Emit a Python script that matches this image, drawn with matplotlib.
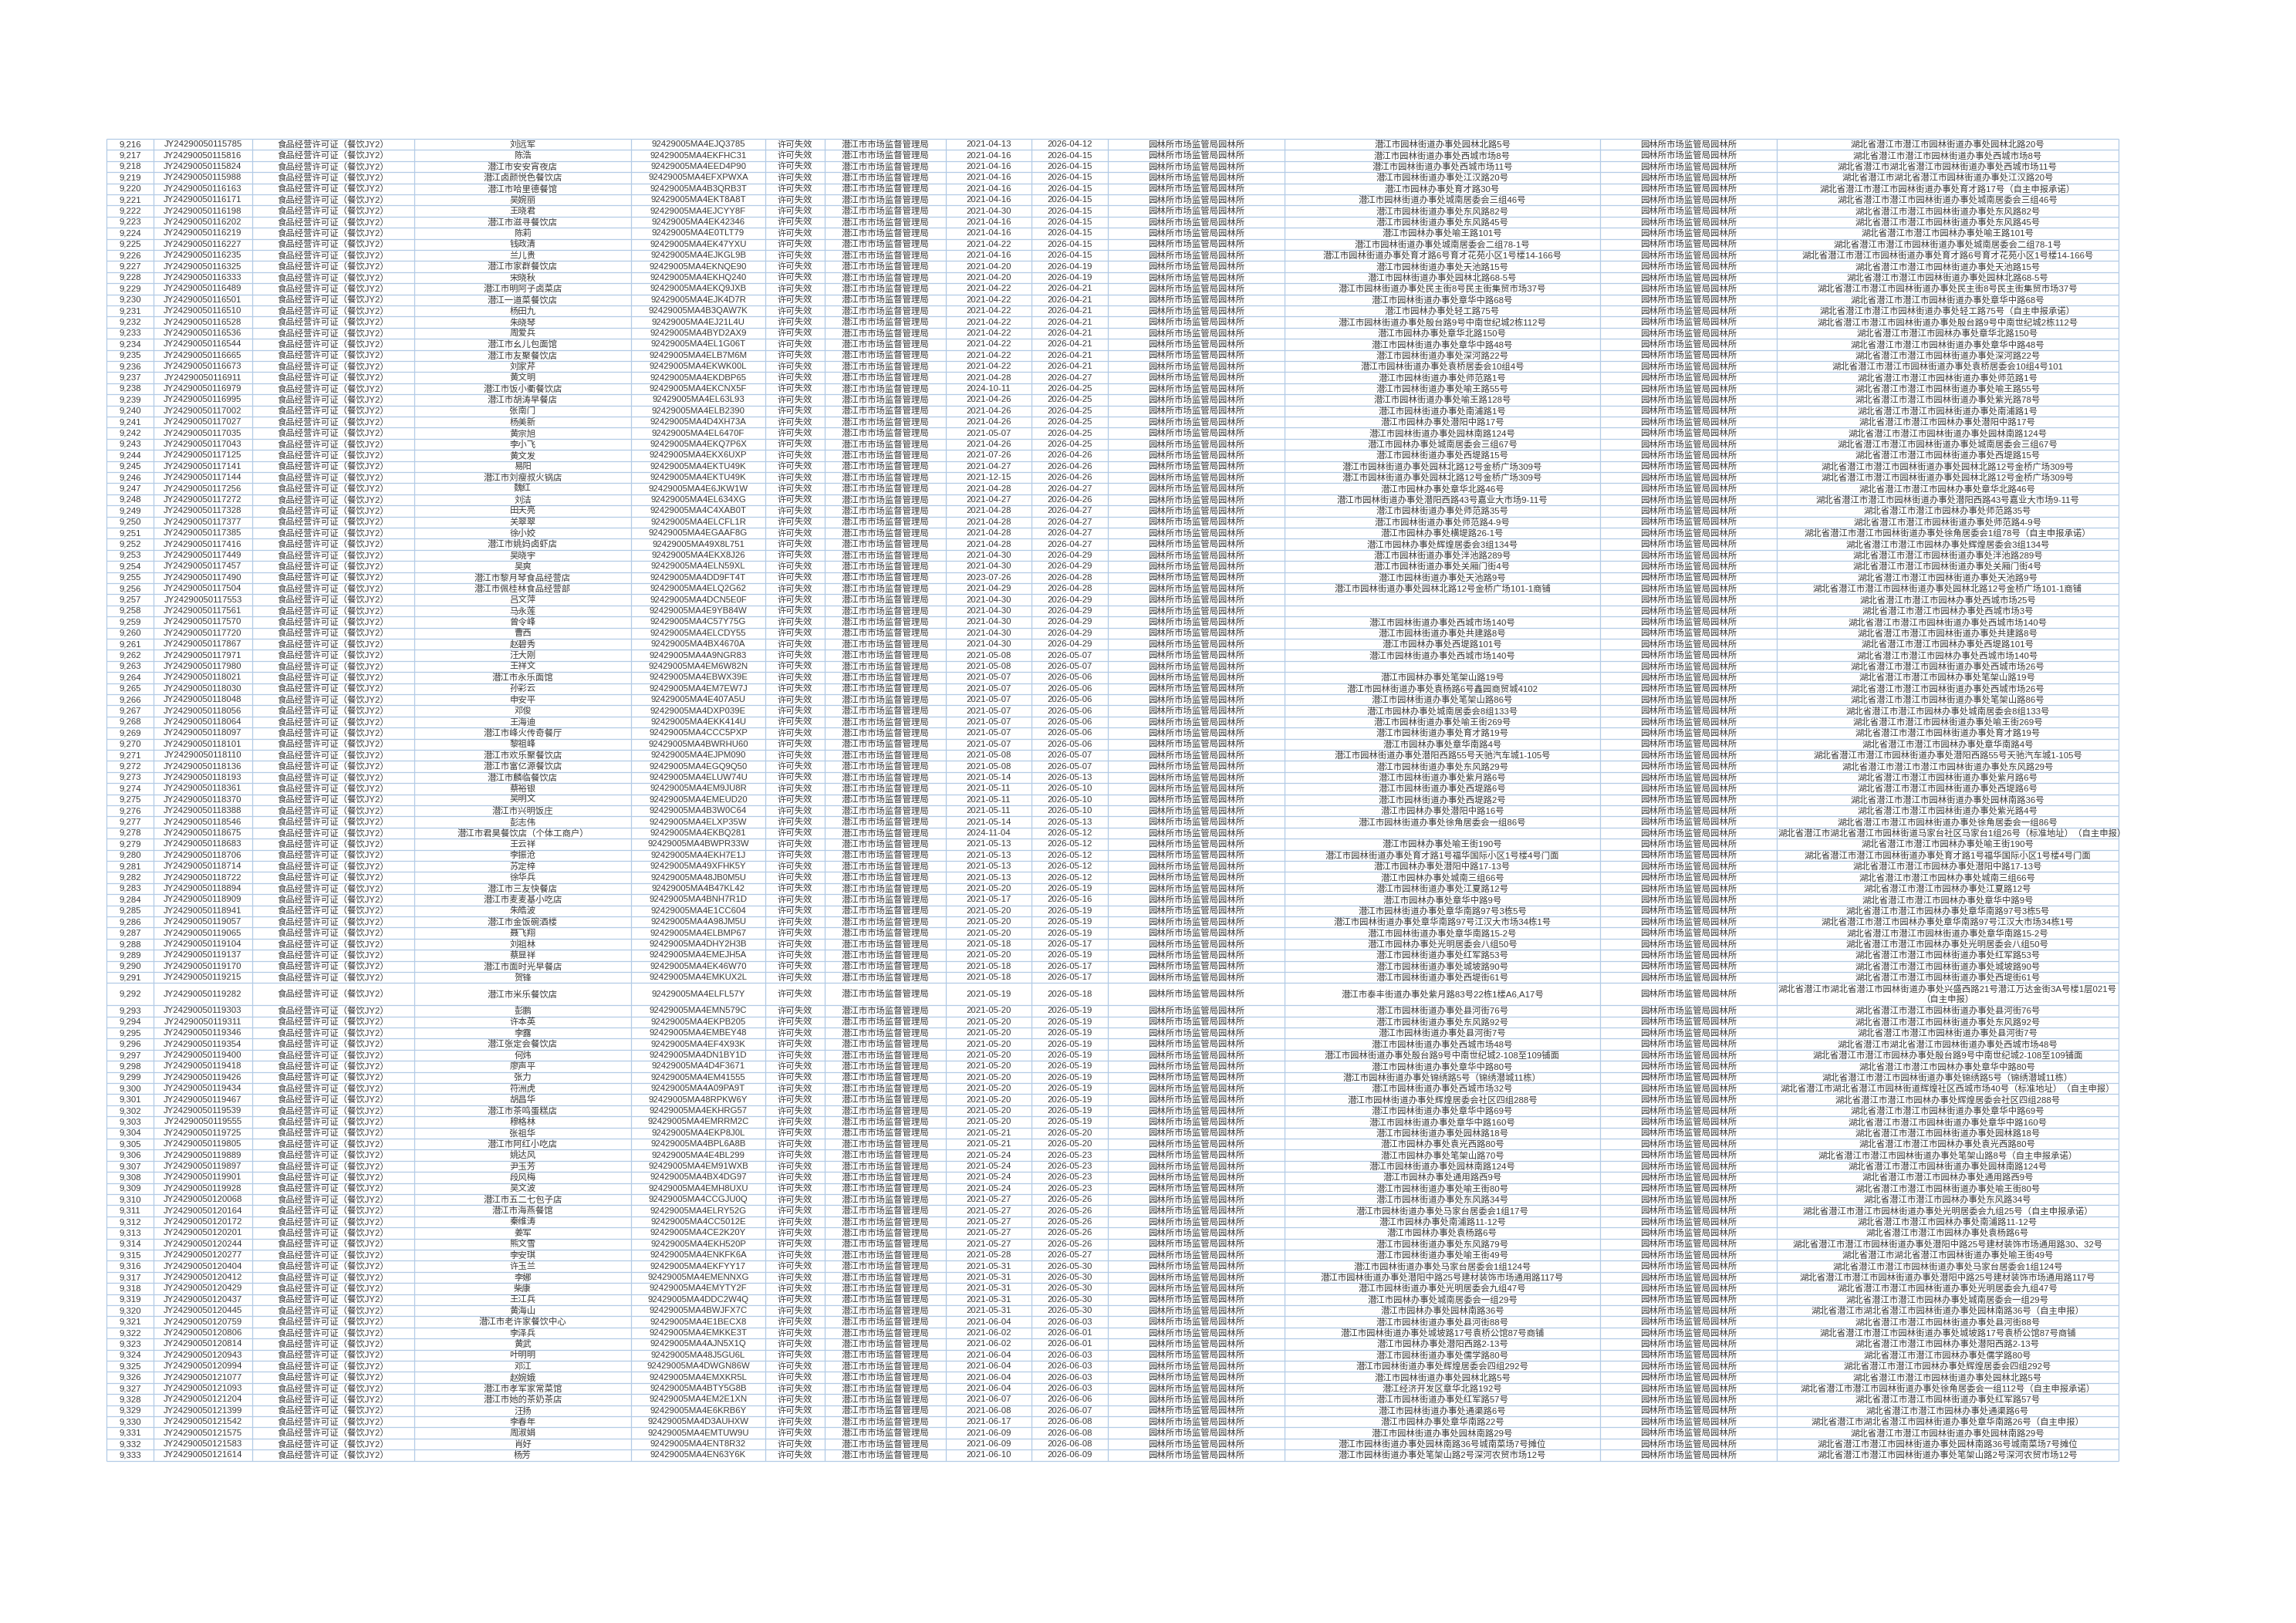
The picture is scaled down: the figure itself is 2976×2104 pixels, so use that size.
import matplotlib
matplotlib.use('Agg')
import matplotlib.pyplot as plt
from matplotlib.patches import Rectangle

plt.rcParams['font.family'] = ['Liberation Sans', 'Noto Sans CJK SC', 'DejaVu Sans']

# ---------------- data ----------------
row_no = [9216, 9217, 9218, 9219, 9220, 9221, 9222, 9223, 9224, 9225,
          9226, 9227, 9228, 9229, 9230, 9231, 9232, 9233, 9234, 9235,
          9236, 9237, 9238, 9239, 9240, 9241, 9242, 9243, 9244, 9245,
          9246, 9247, 9248, 9249, 9250, 9251, 9252, 9253, 9254, 9255,
          9256, 9257, 9258, 9259, 9260, 9261, 9262, 9263, 9264, 9265,
          9266, 9267, 9268, 9269, 9270, 9271, 9272, 9273, 9274, 9275,
          9276, 9277, 9278, 9279, 9280, 9281, 9282, 9283, 9284, 9285,
          9286, 9287, 9288, 9289, 9290, 9291, 9292, 9293, 9294, 9295,
          9296, 9297, 9298, 9299, 9300, 9301, 9302, 9303, 9304, 9305,
          9306, 9307, 9308, 9309, 9310, 9311, 9312, 9313, 9314, 9315,
          9316, 9317, 9318, 9319, 9320, 9321, 9322, 9323, 9324, 9325,
          9326, 9327, 9328, 9329, 9330, 9331, 9332, 9333]

permit_no = [
    'JY24290050115785', 'JY24290050115816', 'JY24290050115824', 'JY24290050115988', 'JY24290050116163',
    'JY24290050116171', 'JY24290050116198', 'JY24290050116202', 'JY24290050116219', 'JY24290050116227',
    'JY24290050116235', 'JY24290050116325', 'JY24290050116333', 'JY24290050116489', 'JY24290050116501',
    'JY24290050116510', 'JY24290050116528', 'JY24290050116536', 'JY24290050116544', 'JY24290050116665',
    'JY24290050116673', 'JY24290050116911', 'JY24290050116979', 'JY24290050116995', 'JY24290050117002',
    'JY24290050117027', 'JY24290050117035', 'JY24290050117043', 'JY24290050117125', 'JY24290050117141',
    'JY24290050117144', 'JY24290050117256', 'JY24290050117272', 'JY24290050117328', 'JY24290050117377',
    'JY24290050117385', 'JY24290050117416', 'JY24290050117449', 'JY24290050117457', 'JY24290050117490',
    'JY24290050117504', 'JY24290050117553', 'JY24290050117561', 'JY24290050117570', 'JY24290050117720',
    'JY24290050117867', 'JY24290050117971', 'JY24290050117980', 'JY24290050118021', 'JY24290050118030',
    'JY24290050118048', 'JY24290050118056', 'JY24290050118064', 'JY24290050118097', 'JY24290050118101',
    'JY24290050118110', 'JY24290050118136', 'JY24290050118193', 'JY24290050118361', 'JY24290050118370',
    'JY24290050118388', 'JY24290050118546', 'JY24290050118675', 'JY24290050118683', 'JY24290050118706',
    'JY24290050118714', 'JY24290050118722', 'JY24290050118894', 'JY24290050118909', 'JY24290050118941',
    'JY24290050119057', 'JY24290050119065', 'JY24290050119104', 'JY24290050119137', 'JY24290050119170',
    'JY24290050119215', 'JY24290050119282', 'JY24290050119303', 'JY24290050119311', 'JY24290050119346',
    'JY24290050119354', 'JY24290050119400', 'JY24290050119418', 'JY24290050119426', 'JY24290050119434',
    'JY24290050119467', 'JY24290050119539', 'JY24290050119555', 'JY24290050119725', 'JY24290050119805',
    'JY24290050119889', 'JY24290050119897', 'JY24290050119901', 'JY24290050119928', 'JY24290050120068',
    'JY24290050120164', 'JY24290050120172', 'JY24290050120201', 'JY24290050120244', 'JY24290050120277',
    'JY24290050120404', 'JY24290050120412', 'JY24290050120429', 'JY24290050120437', 'JY24290050120445',
    'JY24290050120759', 'JY24290050120806', 'JY24290050120814', 'JY24290050120943', 'JY24290050120994',
    'JY24290050121077', 'JY24290050121093', 'JY24290050121204', 'JY24290050121399', 'JY24290050121542',
    'JY24290050121575', 'JY24290050121583', 'JY24290050121614']

license_type = '食品经营许可证（餐饮JY2）'
status = '许可失效'
authority = '潜江市市场监督管理局'
office = '园林所市场监管局园林所'

names = [
    '刘远军', '陈浩', '潜江市安安宵夜店', '潜江卤颜悦色餐饮店', '潜江市哈里德餐馆',
    '吴婉丽', '王晓君', '潜江市滋寻餐饮店', '陈莉', '钱政清',
    '兰儿贵', '潜江市家群餐饮店', '宋晓秋', '潜江市明阿子卤菜店', '潜江一道菜餐饮店',
    '杨田九', '朱晓琴', '周爱兵', '潜江市幺儿包面馆', '潜江市友聚餐饮店',
    '刘家芹', '黄文明', '潜江市饭小衢餐饮店', '潜江市胡涛早餐店', '张南门',
    '杨美新', '黄宗旭', '李小飞', '黄文发', '易阳',
    '潜江市刘瘦叔火锅店', '魏红', '刘洁', '田天亮', '关翠翠',
    '徐小姣', '潜江市姚妈卤虾店', '吴晓宇', '吴爽', '潜江市黎月琴食品经营店',
    '潜江市佩桂林食品经营部', '吕文萍', '马永莲', '曾令峰', '曹西',
    '赵碧秀', '汪大刚', '王祥文', '潜江市永乐面馆', '孙彩云',
    '申安平', '邓俊', '王海迪', '潜江市峰火传奇餐厅', '黎祖峰',
    '潜江市欢乐聚餐饮店', '潜江市富亿源餐饮店', '潜江市麟临餐饮店', '蔡裕银', '吴明文',
    '潜江市兴明饭庄', '彭志伟', '潜江市君昊餐饮店（个体工商户）', '王云祥', '李振沧',
    '苏定梓', '徐华兵', '潜江市三友快餐店', '潜江市麦麦基小吃店', '朱皓波',
    '潜江市金饭碗酒楼', '聂飞翔', '刘祖林', '蔡显祥', '潜江市面时光早餐店',
    '贺锋', '潜江市米乐餐饮店', '彭鹏', '许本英', '李露',
    '潜江张定会餐饮店', '何炜', '廖声平', '张力', '符洲虎',
    '胡昌华', '潜江市茶鸣蛋糕店', '穆格林', '张祖华', '潜江市阿红小吃店',
    '姚达风', '尹玉芳', '段风梅', '吴文波', '潜江市五二七包子店',
    '潜江市海燕餐馆', '秦维涛', '姜军', '熊文雪', '李安琪',
    '许玉兰', '李娜', '柴康', '王江兵', '黄海山',
    '潜江市老许家餐饮中心', '李泽兵', '黄武', '叶明明', '邓江',
    '赵婉娥', '潜江市孝军家常菜馆', '潜江市她的茶奶茶店', '汪扬', '李春年',
    '周淑娟', '肖好', '杨芳']

credit_codes = [
    '92429005MA4EJQ3785', '92429005MA4EKFHC31', '92429005MA4EED4P90', '92429005MA4EFXPWXA', '92429005MA4B3QRB3T',
    '92429005MA4EKT8A8T', '92429005MA4EJCYY8F', '92429005MA4EK42346', '92429005MA4E0TLT79', '92429005MA4EK47YXU',
    '92429005MA4EJKGL9B', '92429005MA4EKNQE90', '92429005MA4EKHQ240', '92429005MA4EKQ9JXB', '92429005MA4EJK4D7R',
    '92429005MA4B3QAW7K', '92429005MA4EJ21L4U', '92429005MA4BYD2AX9', '92429005MA4EL1G06T', '92429005MA4ELB7M6M',
    '92429005MA4EKWK00L', '92429005MA4EKDBP65', '92429005MA4EKCNX5F', '92429005MA4EL63L93', '92429005MA4ELB2390',
    '92429005MA4D4XH73A', '92429005MA4EL6470F', '92429005MA4EKQ7P6X', '92429005MA4EKX6UXP', '92429005MA4EKTU49K',
    '92429005MA4EKTU49K', '92429005MA4E6JKW1W', '92429005MA4EL634XG', '92429005MA4C4XAB0T', '92429005MA4ELCFL1R',
    '92429005MA4EGAAF8G', '92429005MA49X8L751', '92429005MA4EKX8J26', '92429005MA4ELN59XL', '92429005MA4DD9FT4T',
    '92429005MA4ELQ2G62', '92429005MA4DCN5E0F', '92429005MA4E9YB84W', '92429005MA4C57Y75G', '92429005MA4ELCDY55',
    '92429005MA4BX4670A', '92429005MA4A9NGR83', '92429005MA4EM6W82N', '92429005MA4EBWX39E', '92429005MA4EM7EW7J',
    '92429005MA4E407A5U', '92429005MA4DXP039E', '92429005MA4EKK414U', '92429005MA4CCC5PXP', '92429005MA4BWRHU60',
    '92429005MA4EJPM090', '92429005MA4EGQ9Q50', '92429005MA4ELUW74U', '92429005MA4EM9JU8R', '92429005MA4EMEUD20',
    '92429005MA4B3W0C64', '92429005MA4ELXP35W', '92429005MA4EKBQ281', '92429005MA4BWPR33W', '92429005MA4EKH7E1J',
    '92429005MA49XFHK5Y', '92429005MA48JB0M5U', '92429005MA4B47KL42', '92429005MA4BNH7R1D', '92429005MA4E1CC604',
    '92429005MA4A98JM5U', '92429005MA4ELBMP67', '92429005MA4DHY2H3B', '92429005MA4EMEJH5A', '92429005MA4EK46W70',
    '92429005MA4EMKUX2L', '92429005MA4ELFL57Y', '92429005MA4EMN579C', '92429005MA4EKPB205', '92429005MA4EMBEY48',
    '92429005MA4EF4X93K', '92429005MA4DN1BY1D', '92429005MA4D4F3671', '92429005MA4EM41555', '92429005MA4A09PA9T',
    '92429005MA48RPKW6Y', '92429005MA4EKHRG57', '92429005MA4EMRRM2C', '92429005MA4EKP8J0L', '92429005MA4BPL6A8B',
    '92429005MA4E4BL299', '92429005MA4EM91WXB', '92429005MA4BX4DG97', '92429005MA4EMH8UXU', '92429005MA4CCGJU0Q',
    '92429005MA4ELRY52G', '92429005MA4CC5012E', '92429005MA4CE2K20Y', '92429005MA4EKH520P', '92429005MA4ENKFK6A',
    '92429005MA4EKFYY17', '92429005MA4EMENNXG', '92429005MA4EMYTY2F', '92429005MA4DDC2W4Q', '92429005MA4BWJFX7C',
    '92429005MA4E1BECX8', '92429005MA4EMKKE3T', '92429005MA4AJN5X1Q', '92429005MA48J5GU6L', '92429005MA4DWGN86W',
    '92429005MA4EMXKR5L', '92429005MA4BTY5G8B', '92429005MA4EM2E1XN', '92429005MA4E6KRB6Y', '92429005MA4D3AUHXW',
    '92429005MA4EMTUW9U', '92429005MA4ENT8R32', '92429005MA4EN63Y6K']

start_dates = [
    '2021-04-13', '2021-04-16', '2021-04-16', '2021-04-16', '2021-04-16',
    '2021-04-16', '2021-04-30', '2021-04-16', '2021-04-16', '2021-04-22',
    '2021-04-16', '2021-04-20', '2021-04-20', '2021-04-22', '2021-04-22',
    '2021-04-22', '2021-04-22', '2021-04-22', '2021-04-22', '2021-04-22',
    '2021-04-22', '2021-04-28', '2024-10-11', '2021-04-26', '2021-04-26',
    '2021-04-26', '2021-05-07', '2021-04-26', '2021-07-26', '2021-04-27',
    '2021-12-15', '2021-04-28', '2021-04-27', '2021-04-28', '2021-04-28',
    '2021-04-28', '2021-04-28', '2021-04-30', '2021-04-30', '2023-07-26',
    '2021-04-29', '2021-04-30', '2021-04-30', '2021-04-30', '2021-04-30',
    '2021-04-30', '2021-05-08', '2021-05-08', '2021-05-07', '2021-05-07',
    '2021-05-07', '2021-05-07', '2021-05-07', '2021-05-07', '2021-05-07',
    '2021-05-08', '2021-05-08', '2021-05-14', '2021-05-11', '2021-05-11',
    '2021-05-11', '2021-05-14', '2024-11-04', '2021-05-13', '2021-05-13',
    '2021-05-13', '2021-05-13', '2021-05-20', '2021-05-17', '2021-05-20',
    '2021-05-20', '2021-05-20', '2021-05-18', '2021-05-20', '2021-05-18',
    '2021-05-18', '2021-05-19', '2021-05-20', '2021-05-20', '2021-05-20',
    '2021-05-20', '2021-05-20', '2021-05-20', '2021-05-20', '2021-05-20',
    '2021-05-20', '2021-05-20', '2021-05-20', '2021-05-21', '2021-05-21',
    '2021-05-24', '2021-05-24', '2021-05-24', '2021-05-24', '2021-05-27',
    '2021-05-27', '2021-05-27', '2021-05-27', '2021-05-27', '2021-05-28',
    '2021-05-31', '2021-05-31', '2021-05-31', '2021-05-31', '2021-05-31',
    '2021-06-04', '2021-06-02', '2021-06-02', '2021-06-04', '2021-06-04',
    '2021-06-04', '2021-06-04', '2021-06-07', '2021-06-08', '2021-06-17',
    '2021-06-09', '2021-06-09', '2021-06-10']

end_dates = [
    '2026-04-12', '2026-04-15', '2026-04-15', '2026-04-15', '2026-04-15',
    '2026-04-15', '2026-04-15', '2026-04-15', '2026-04-15', '2026-04-15',
    '2026-04-15', '2026-04-19', '2026-04-19', '2026-04-21', '2026-04-21',
    '2026-04-21', '2026-04-21', '2026-04-21', '2026-04-21', '2026-04-21',
    '2026-04-21', '2026-04-27', '2026-04-25', '2026-04-25', '2026-04-25',
    '2026-04-25', '2026-04-25', '2026-04-25', '2026-04-26', '2026-04-26',
    '2026-04-26', '2026-04-27', '2026-04-26', '2026-04-27', '2026-04-27',
    '2026-04-27', '2026-04-27', '2026-04-29', '2026-04-29', '2026-04-28',
    '2026-04-28', '2026-04-29', '2026-04-29', '2026-04-29', '2026-04-29',
    '2026-04-29', '2026-05-07', '2026-05-07', '2026-05-06', '2026-05-06',
    '2026-05-06', '2026-05-06', '2026-05-06', '2026-05-06', '2026-05-06',
    '2026-05-07', '2026-05-07', '2026-05-13', '2026-05-10', '2026-05-10',
    '2026-05-10', '2026-05-13', '2026-05-12', '2026-05-12', '2026-05-12',
    '2026-05-12', '2026-05-12', '2026-05-19', '2026-05-16', '2026-05-19',
    '2026-05-19', '2026-05-19', '2026-05-17', '2026-05-19', '2026-05-17',
    '2026-05-17', '2026-05-18', '2026-05-19', '2026-05-19', '2026-05-19',
    '2026-05-19', '2026-05-19', '2026-05-19', '2026-05-19', '2026-05-19',
    '2026-05-19', '2026-05-19', '2026-05-19', '2026-05-20', '2026-05-20',
    '2026-05-23', '2026-05-23', '2026-05-23', '2026-05-23', '2026-05-26',
    '2026-05-26', '2026-05-26', '2026-05-26', '2026-05-26', '2026-05-27',
    '2026-05-30', '2026-05-30', '2026-05-30', '2026-05-30', '2026-05-30',
    '2026-06-03', '2026-06-01', '2026-06-01', '2026-06-03', '2026-06-03',
    '2026-06-03', '2026-06-03', '2026-06-06', '2026-06-07', '2026-06-08',
    '2026-06-08', '2026-06-08', '2026-06-09']

addr_business = [
    '潜江市园林街道办事处园林北路5号', '潜江市园林街道办事处西城市场8号', '潜江市园林街道办事处西城市场11号',
    '潜江市园林街道办事处江汉路20号', '潜江市园林办事处育才路30号', '潜江市园林街道办事处城南居委会三组46号',
    '潜江市园林街道办事处东风路82号', '潜江市园林街道办事处东风路45号', '潜江市园林办事处喻王路101号',
    '潜江市园林街道办事处城南居委会二组78-1号', '潜江市园林街道办事处育才路6号育才花苑小区1号楼14-166号',
    '潜江市园林街道办事处天池路15号', '潜江市园林街道办事处园林北路68-5号',
    '潜江市园林街道办事处民主街8号民主街集贸市场37号', '潜江市园林街道办事处章华中路68号',
    '潜江市园林办事处轻工路75号', '潜江市园林街道办事处殷台路9号中南世纪城2栋112号',
    '潜江市园林办事处章华北路150号', '潜江市园林街道办事处章华中路48号', '潜江市园林街道办事处深河路22号',
    '潜江市园林街道办事处袁桥居委会10组4号', '潜江市园林街道办事处师范路1号', '潜江市园林街道办事处喻王路55号',
    '潜江市园林街道办事处喻王路128号', '潜江市园林街道办事处南浦路1号', '潜江市园林办事处潜阳中路17号',
    '潜江市园林街道办事处园林南路124号', '潜江市园林办事处城南居委会三组67号', '潜江市园林街道办事处西堤路15号',
    '潜江市园林街道办事处园林北路12号金桥广场309号', '潜江市园林街道办事处园林北路12号金桥广场309号',
    '潜江市园林办事处章华北路46号', '潜江市园林街道办事处潜阳西路43号嘉业大市场9-11号',
    '潜江市园林街道办事处师范路35号', '潜江市园林街道办事处师范路4-9号', '潜江市园林办事处横堤路26-1号',
    '潜江市园林办事处辉煌居委会3组134号', '潜江市园林街道办事处泮池路289号', '潜江市园林街道办事处关厢门街4号',
    '潜江市园林街道办事处天池路9号', '潜江市园林街道办事处园林北路12号金桥广场101-1商铺', '',
    '', '潜江市园林街道办事处西城市场140号', '潜江市园林街道办事处共建路8号',
    '潜江市园林办事处西堤路101号', '潜江市园林街道办事处西城市场140号', '',
    '潜江市园林办事处笔架山路19号', '潜江市园林街道办事处袁杨路6号鑫园商贸城4102', '潜江市园林街道办事处笔架山路86号',
    '潜江市园林办事处城南居委会8组133号', '潜江市园林街道办事处喻王街269号', '潜江市园林街道办事处育才路19号',
    '潜江市园林办事处章华南路4号', '潜江市园林街道办事处潜阳西路55号天驰汽车城1-105号', '潜江市园林街道办事处东风路29号',
    '潜江市园林街道办事处紫月路6号', '潜江市园林街道办事处西堤路6号', '潜江市园林街道办事处西堤路2号',
    '潜江市园林办事处潜阳中路16号', '潜江市园林街道办事处徐角居委会一组86号', '',
    '潜江市园林办事处喻王街190号', '潜江市园林街道办事处育才路1号福华国际小区1号楼4号门面', '潜江市园林办事处潜阳中路17-13号',
    '潜江市园林办事处城南三组66号', '潜江市园林街道办事处江夏路12号', '潜江市园林办事处章华中路9号',
    '潜江市园林街道办事处章华南路97号3栋5号', '潜江市园林街道办事处章华南路97号江汉大市场34栋1号',
    '潜江市园林街道办事处章华南路15-2号', '潜江市园林办事处光明居委会八组50号', '潜江市园林街道办事处红军路53号',
    '潜江市园林街道办事处城坡路90号', '潜江市园林街道办事处西堤街61号', '潜江市泰丰街道办事处紫月路83号22栋1楼A6,A17号',
    '潜江市园林街道办事处县河街76号', '潜江市园林街道办事处东风路92号', '潜江市园林街道办事处县河街7号',
    '潜江市园林街道办事处西城市场48号', '潜江市园林街道办事处殷台路9号中南世纪城2-108至109铺面',
    '潜江市园林街道办事处章华中路80号', '潜江市园林街道办事处锦绣路5号（锦绣潜城11栋）',
    '潜江市园林街道办事处西城市场32号', '潜江市园林街道办事处辉煌居委会社区四组288号',
    '潜江市园林街道办事处章华中路69号', '潜江市园林街道办事处章华中路160号', '潜江市园林街道办事处园林路18号',
    '潜江市园林办事处袁光西路80号', '潜江市园林办事处笔架山路70号', '潜江市园林街道办事处园林南路124号',
    '潜江市园林办事处通用路西9号', '潜江市园林街道办事处喻王街80号', '潜江市园林街道办事处东风路34号',
    '潜江市园林街道办事处马家台居委会1组17号', '潜江市园林办事处南浦路11-12号', '潜江市园林办事处袁杨路6号',
    '潜江市园林街道办事处东风路79号', '潜江市园林街道办事处喻王街49号', '潜江市园林街道办事处马家台居委会1组124号',
    '潜江市园林街道办事处潜阳中路25号建材装饰市场通用路117号', '潜江市园林街道办事处光明居委会九组47号',
    '潜江市园林办事处城南居委会一组29号', '潜江市园林办事处园林南路36号', '潜江市园林街道办事处县河街88号',
    '潜江市园林街道办事处城坡路17号袁桥公馆87号商铺', '潜江市园林办事处潜阳西路2-13号',
    '潜江市园林街道办事处儒学路80号', '潜江市园林街道办事处辉煌居委会四组292号', '潜江市园林街道办事处园林北路5号',
    '潜江经济开发区章华北路192号', '潜江市园林街道办事处红军路57号', '潜江市园林街道办事处通渠路6号',
    '潜江市园林办事处章华南路22号', '潜江市园林街道办事处园林南路29号',
    '潜江市园林街道办事处园林南路36号城南菜场7号摊位', '潜江市园林街道办事处笔架山路2号深河农贸市场12号']

addr_registered = [
    '湖北省潜江市潜江市园林街道办事处园林北路20号', '湖北省潜江市潜江市园林街道办事处西城市场8号',
    '湖北省潜江市湖北省潜江市园林街道办事处西城市场11号', '湖北省潜江市湖北省潜江市园林街道办事处江汉路20号',
    '湖北省潜江市潜江市园林街道办事处育才路17号（自主申报承诺）', '湖北省潜江市潜江市园林街道办事处城南居委会三组46号',
    '湖北省潜江市潜江市园林街道办事处东风路82号', '湖北省潜江市潜江市园林街道办事处东风路45号',
    '湖北省潜江市潜江市园林办事处喻王路101号', '湖北省潜江市潜江市园林街道办事处城南居委会二组78-1号',
    '湖北省潜江市潜江市园林街道办事处育才路6号育才花苑小区1号楼14-166号', '湖北省潜江市潜江市园林街道办事处天池路15号',
    '湖北省潜江市潜江市园林街道办事处园林北路68-5号', '湖北省潜江市潜江市园林街道办事处民主街8号民主街集贸市场37号',
    '湖北省潜江市潜江市园林街道办事处章华中路68号', '湖北省潜江市潜江市园林街道办事处轻工路75号（自主申报承诺）',
    '湖北省潜江市潜江市园林街道办事处殷台路9号中南世纪城2栋112号', '湖北省潜江市潜江市园林办事处章华北路150号',
    '湖北省潜江市潜江市园林街道办事处章华中路48号', '湖北省潜江市潜江市园林街道办事处深河路22号',
    '湖北省潜江市潜江市园林街道办事处袁桥居委会10组4号101', '湖北省潜江市潜江市园林街道办事处师范路1号',
    '湖北省潜江市潜江市园林街道办事处喻王路55号', '湖北省潜江市潜江市园林街道办事处紫光路78号',
    '湖北省潜江市潜江市园林街道办事处南浦路1号', '湖北省潜江市潜江市园林办事处潜阳中路17号',
    '湖北省潜江市潜江市园林街道办事处园林南路124号', '湖北省潜江市潜江市园林街道办事处城南居委会三组67号',
    '湖北省潜江市潜江市园林街道办事处西堤路15号', '湖北省潜江市潜江市园林街道办事处园林北路12号金桥广场309号',
    '湖北省潜江市潜江市园林街道办事处园林北路12号金桥广场309号', '湖北省潜江市潜江市园林办事处章华北路46号',
    '湖北省潜江市潜江市园林街道办事处潜阳西路43号嘉业大市场9-11号', '湖北省潜江市潜江市园林办事处师范路35号',
    '湖北省潜江市潜江市园林街道办事处师范路4-9号', '湖北省潜江市潜江市园林街道办事处徐角居委会1组78号（自主申报承诺）',
    '湖北省潜江市潜江市园林办事处辉煌居委会3组134号', '湖北省潜江市潜江市园林街道办事处泮池路289号',
    '湖北省潜江市潜江市园林街道办事处关厢门街4号', '湖北省潜江市潜江市园林街道办事处天池路9号',
    '湖北省潜江市潜江市园林街道办事处园林北路12号金桥广场101-1商铺', '湖北省潜江市潜江市园林办事处西城市场25号',
    '湖北省潜江市潜江市园林办事处西城市场3号', '湖北省潜江市潜江市园林街道办事处西城市场140号',
    '湖北省潜江市潜江市园林街道办事处共建路8号', '湖北省潜江市潜江市园林办事处西堤路101号',
    '湖北省潜江市潜江市园林办事处西城市场140号', '湖北省潜江市潜江市园林街道办事处西城市场26号',
    '湖北省潜江市潜江市园林办事处笔架山路19号', '湖北省潜江市潜江市园林街道办事处西城市场26号',
    '湖北省潜江市潜江市园林街道办事处笔架山路86号', '湖北省潜江市潜江市园林办事处城南居委会8组133号',
    '湖北省潜江市潜江市园林街道办事处喻王街269号', '湖北省潜江市潜江市园林街道办事处育才路19号',
    '湖北省潜江市潜江市园林办事处章华南路4号', '湖北省潜江市潜江市园林街道办事处潜阳西路55号天驰汽车城1-105号',
    '湖北省潜江市潜江市潜江市园林街道办事处东风路29号', '湖北省潜江市潜江市园林街道办事处紫月路6号',
    '湖北省潜江市潜江市园林街道办事处西堤路6号', '湖北省潜江市潜江市园林街道办事处园林南路36号',
    '湖北省潜江市潜江市园林街道办事处紫光路4号', '湖北省潜江市潜江市园林街道办事处徐角居委会一组86号',
    '湖北省潜江市湖北省潜江市园林街道马家台社区马家台1组26号（标准地址）（自主申报）',
    '湖北省潜江市潜江市园林办事处喻王街190号', '湖北省潜江市潜江市园林街道办事处育才路1号福华国际小区1号楼4号门面',
    '湖北省潜江市潜江市园林办事处潜阳中路17-13号', '湖北省潜江市潜江市园林办事处城南三组66号',
    '湖北省潜江市潜江市园林办事处江夏路12号', '湖北省潜江市潜江市园林办事处章华中路9号',
    '湖北省潜江市潜江市园林办事处章华南路97号3栋5号', '湖北省潜江市潜江市园林办事处章华南路97号江汉大市场34栋1号',
    '湖北省潜江市潜江市园林街道办事处章华南路15-2号', '湖北省潜江市潜江市园林办事处光明居委会八组50号',
    '湖北省潜江市潜江市园林街道办事处红军路53号', '湖北省潜江市潜江市园林街道办事处城坡路90号',
    '湖北省潜江市潜江市园林街道办事处西堤街61号',
    '湖北省潜江市湖北省潜江市园林街道办事处兴盛西路21号潜江万达金街3A号楼1层021号\n（自主申报）',
    '湖北省潜江市潜江市园林街道办事处县河街76号', '湖北省潜江市潜江市园林街道办事处东风路92号',
    '湖北省潜江市潜江市园林街道办事处县河街7号', '湖北省潜江市湖北省潜江市园林街道办事处西城市场48号',
    '湖北省潜江市潜江市园林办事处殷台路9号中南世纪城2-108至109铺面', '湖北省潜江市潜江市园林办事处章华中路80号',
    '湖北省潜江市潜江市园林街道办事处锦绣路5号（锦绣潜城11栋）',
    '湖北省潜江市湖北省潜江市园林街道辉煌社区西城市场40号（标准地址）（自主申报）',
    '湖北省潜江市潜江市园林办事处辉煌居委会社区四组288号', '湖北省潜江市潜江市园林街道办事处章华中路69号',
    '湖北省潜江市潜江市园林街道办事处章华中路160号', '湖北省潜江市潜江市园林街道办事处园林路18号',
    '湖北省潜江市潜江市园林办事处袁光西路80号', '湖北省潜江市潜江市园林街道办事处笔架山路8号（自主申报承诺）',
    '湖北省潜江市潜江市园林街道办事处园林南路124号', '湖北省潜江市潜江市园林办事处通用路西9号',
    '湖北省潜江市潜江市园林街道办事处喻王街80号', '湖北省潜江市潜江市园林办事处东风路34号',
    '湖北省潜江市潜江市园林街道办事处光明居委会九组25号（自主申报承诺）', '湖北省潜江市潜江市园林办事处南浦路11-12号',
    '湖北省潜江市潜江市园林办事处袁杨路6号', '湖北省潜江市潜江市园林街道办事处潜阳中路25号建材装饰市场通用路30、32号',
    '湖北省潜江市湖北省潜江市园林街道办事处喻王街49号', '湖北省潜江市潜江市园林街道办事处马家台居委会1组124号',
    '湖北省潜江市潜江市园林街道办事处潜阳中路25号建材装饰市场通用路117号', '湖北省潜江市潜江市园林街道办事处光明居委会九组47号',
    '湖北省潜江市潜江市园林办事处城南居委会一组29号', '湖北省潜江市湖北省潜江市园林街道办事处园林南路36号（自主申报）',
    '湖北省潜江市潜江市园林街道办事处县河街88号', '湖北省潜江市潜江市园林街道办事处城坡路17号袁桥公馆87号商铺',
    '湖北省潜江市潜江市园林办事处潜阳西路2-13号', '湖北省潜江市潜江市园林办事处儒学路80号',
    '湖北省潜江市潜江市园林办事处辉煌居委会四组292号', '湖北省潜江市潜江市园林街道办事处园林北路5号',
    '湖北省潜江市潜江市园林街道办事处徐角居委会一组112号（自主申报承诺）', '湖北省潜江市潜江市园林街道办事处红军路57号',
    '湖北省潜江市潜江市园林办事处通渠路6号', '湖北省潜江市湖北省潜江市园林街道办事处章华南路26号（自主申报）',
    '湖北省潜江市潜江市园林街道办事处园林南路29号', '湖北省潜江市潜江市园林街道办事处园林南路36号城南菜场7号摊位',
    '湖北省潜江市潜江市园林街道办事处笔架山路2号深河农贸市场12号']

# ---------------- layout ----------------
n = len(row_no)
columns = [
    [f'{v:,}' for v in row_no],
    permit_no,
    [license_type] * n,
    names,
    credit_codes,
    [status] * n,
    [authority] * n,
    start_dates,
    end_dates,
    [office] * n,
    addr_business,
    [office] * n,
    addr_registered,
]
col_edges = [138, 199, 327, 537, 818, 992, 1069, 1226, 1337, 1436, 1665, 2074, 2303, 2746]
top, row_h = 180, 14.4
line_color = '#b3cbe6'
text_color = '#3a3a3a'

fig = plt.figure(figsize=(29.76, 21.04), dpi=100)
ax = fig.add_axes([0, 0, 1, 1])
ax.set_xlim(0, 2976)
ax.set_ylim(2104, 0)
ax.axis('off')

# rows with wrapped text are taller
units = [1 + max(col[i].count('\n') for col in columns) for i in range(n)]
y_edges = [top]
for u in units:
    y_edges.append(y_edges[-1] + u * row_h)

ax.hlines(y_edges, col_edges[0], col_edges[-1], colors=line_color, linewidth=0.9)
ax.vlines(col_edges, y_edges[0], y_edges[-1], colors=line_color, linewidth=0.9)

renderer = fig.canvas.get_renderer()
pad = 2
for i in range(n):
    y0, y1 = y_edges[i], y_edges[i + 1]
    for j, col in enumerate(columns):
        s = col[i]
        if not s:
            continue
        x0, x1 = col_edges[j], col_edges[j + 1]
        t = ax.text((x0 + x1) / 2, (y0 + y1) / 2, s, ha='center', va='center',
                    fontsize=8.2, color=text_color, linespacing=1.25)
        # too wide for the cell: start at the left edge and cut at the border
        if t.get_window_extent(renderer).width > x1 - x0 - pad:
            t.set_ha('left')
            t.set_x(x0 + pad)
            t.set_clip_path(Rectangle((x0, y0), x1 - x0, y1 - y0, transform=ax.transData))

fig.savefig('out.png', dpi=100, facecolor='white')
